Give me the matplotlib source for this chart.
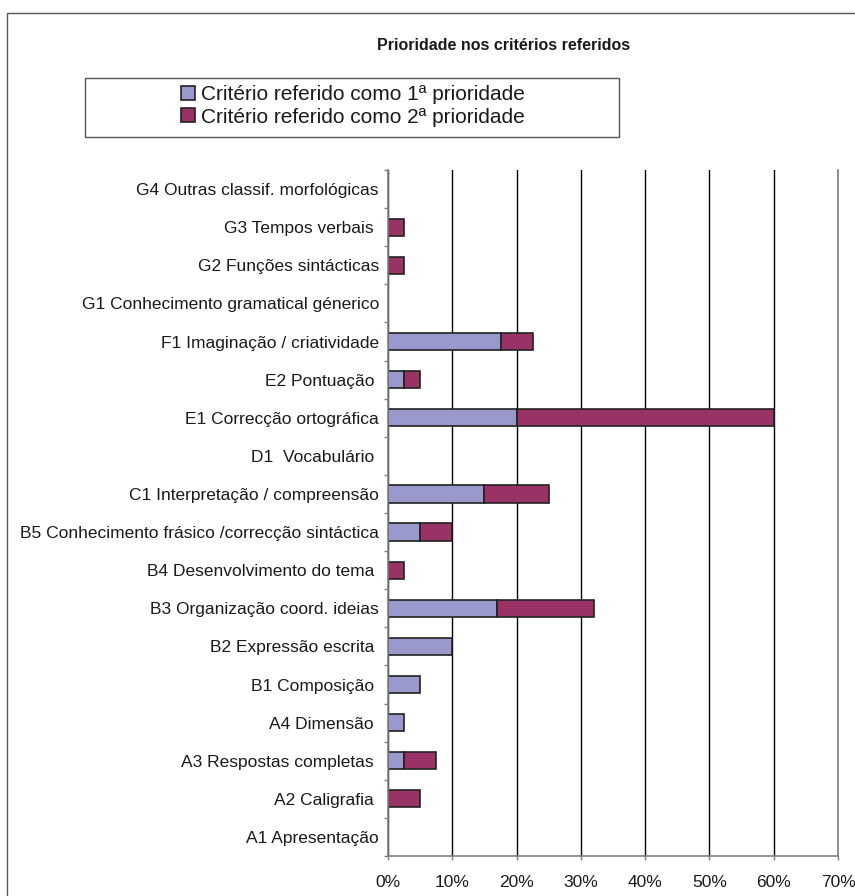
import matplotlib
matplotlib.use("Agg")
import matplotlib.pyplot as plt
from matplotlib.patches import Rectangle, Patch
from matplotlib.ticker import FixedLocator, FuncFormatter
import numpy as np

plt.rcParams['font.family'] = ['Liberation Sans', 'DejaVu Sans']

categories = [
    "A1 Apresentação",
    "A2 Caligrafia ",
    "A3 Respostas completas ",
    "A4 Dimensão ",
    "B1 Composição ",
    "B2 Expressão escrita ",
    "B3 Organização coord. ideias",
    "B4 Desenvolvimento do tema ",
    "B5 Conhecimento frásico /correcção sintáctica",
    "C1 Interpretação / compreensão",
    "D1  Vocabulário ",
    "E1 Correcção ortográfica",
    "E2 Pontuação ",
    "F1 Imaginação / criatividade",
    "G1 Conhecimento gramatical génerico",
    "G2 Funções sintácticas",
    "G3 Tempos verbais ",
    "G4 Outras classif. morfológicas",
]
first_priority = [0, 0, 2.5, 2.5, 5, 10, 17, 0, 5, 15, 0, 20, 2.5, 17.5, 0, 0, 0, 0]
second_priority = [0, 5, 5, 0, 0, 0, 15, 2.5, 5, 10, 0, 40, 2.5, 5, 0, 2.5, 2.5, 0]
series_names = ["Critério referido como 1ª prioridade",
                "Critério referido como 2ª prioridade"]
x_ticks = [0, 10, 20, 30, 40, 50, 60, 70]
title = "Prioridade nos critérios referidos"

W, H = 855, 896
fig = plt.figure(figsize=(W / 100, H / 100), dpi=100)

# outer frame
fig.patches.append(Rectangle((7 / W, -0.05), 1.0, 1 - 13 / H + 0.05,
                             transform=fig.transFigure, fill=False,
                             edgecolor="#555555", linewidth=1.0))

ax = fig.add_axes([388 / W, 1 - 856 / H, (838 - 388) / W, (856 - 170) / H])

c1, c2 = "#9999CC", "#993366"
y = np.arange(len(categories))
f = np.array(first_priority, dtype=float)
s = np.array(second_priority, dtype=float)
lw1 = np.where(f > 0, 1.2, 0.0)
lw2 = np.where(s > 0, 1.2, 0.0)
ax.barh(y, f, height=0.45, color=c1, edgecolor="#222222", linewidth=lw1, zorder=3)
ax.barh(y, s, left=f, height=0.45, color=c2, edgecolor="#222222", linewidth=lw2, zorder=3)

ax.set_xlim(0, 70)
ax.set_ylim(-0.5, len(categories) - 0.5)
ax.set_xticks(x_ticks)
ax.xaxis.set_major_formatter(FuncFormatter(lambda v, p: f"{int(v)}%"))
ax.set_yticks(y)
ax.set_yticklabels(categories)
ax.yaxis.set_minor_locator(FixedLocator(np.arange(len(categories) + 1) - 0.5))

ax.tick_params(axis='y', which='major', length=0, pad=6.5, labelsize=12.5, labelcolor="#1a1a1a")
ax.tick_params(axis='y', which='minor', length=3, width=1, color="#808080", direction='out')
ax.tick_params(axis='x', which='major', length=3, width=1, color="#808080", direction='out',
               pad=11, labelsize=12.5, labelcolor="#1a1a1a")

ax.grid(axis='x', color="#000000", linewidth=1.0, zorder=1)
ax.set_axisbelow(True)
ax.spines["top"].set_visible(False)
ax.spines["right"].set_color("#808080")
ax.spines["right"].set_linewidth(1.2)
for side in ("left", "bottom"):
    ax.spines[side].set_color("#808080")
    ax.spines[side].set_linewidth(1.2)
    ax.spines[side].set_zorder(4)

fig.text(504 / W, 1 - 45 / H, title, ha='center', va='center',
         fontsize=11.5, fontweight='bold', color="#1a1a1a")

# legend box
fig.patches.append(Rectangle((85 / W, 1 - 137 / H), (619 - 85) / W, (137 - 78) / H,
                             transform=fig.transFigure, fill=False,
                             edgecolor="#555555", linewidth=1.0))
handles = [Patch(facecolor=c1, edgecolor="#222222", linewidth=1.2),
           Patch(facecolor=c2, edgecolor="#222222", linewidth=1.2)]
fig.legend(handles, series_names, loc='center', bbox_to_anchor=(353 / W, 1 - 106 / H),
           frameon=False, fontsize=15, handlelength=0.67, handleheight=0.67,
           handletextpad=0.3, labelspacing=0.15, borderpad=0, labelcolor="#1a1a1a")

fig.savefig("out.png", dpi=100)
